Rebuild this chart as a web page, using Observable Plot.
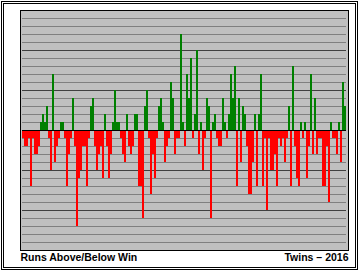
<!DOCTYPE html>
<html><head><meta charset="utf-8">
<script src="https://cdn.jsdelivr.net/npm/d3@7"></script>
<script src="https://cdn.jsdelivr.net/npm/@observablehq/plot@0.6"></script>
<style>
body{margin:0;background:#fff;}
#chart{position:absolute;left:0;top:0;}
#border{position:absolute;left:1px;top:1px;width:351px;height:263px;border:3px double #000;pointer-events:none;}
</style></head><body>
<div id="chart"></div><div id="border"></div>
<script>
// Runs above (+) / below (-) for each of the 162 games, in order
const runDiff = [
  -1,-2,-2,-1,-7,-1,-3,-3,-2,1,2,1,3,-1,-5,7,-4,-2,-1,1,1,-1,-7,-3,-1,4,-2,-12,-6,-5,-2,-2,
  -7,-1,3,4,-2,-5,-3,-2,-6,2,-2,-6,-3,1,5,1,1,-1,-3,-4,2,-2,-3,-2,2,2,-7,-7,-11,3,5,-1,-8,
  -3,-6,-1,3,4,1,-4,-2,-1,6,4,-3,-1,-1,12,1,-2,7,4,9,-1,2,10,-3,1,-5,-1,4,3,-11,1,2,-1,
  -2,-2,4,1,-1,2,7,4,8,-7,4,-4,3,2,-2,-8,-8,-4,2,-7,2,7,-7,-1,-10,-1,-5,-5,-3,-7,-1,-2,-1,
  -4,-1,3,-7,8,-2,-6,-7,1,-1,1,-6,-2,7,-3,4,-3,-1,-1,-7,-7,-2,-9,1,-1,-1,-3,1,-4,6,3
];
const games = runDiff.map((_, i) => i + 1);
const gridValues = [-14,-13,-12,-11,-10,-9,-8,-7,-6,-5,-4,-3,-2,-1,1,2,3,4,5,6,7,8,9,10,11,12,13,14];
const leftLabel = ["Runs Above/Below Win"];
const rightLabel = ["Twins – 2016"];

const data = games.map((g, i) => ({game: g, diff: runDiff[i]}));
const font = {fontSize: 10.5, fontWeight: "bold", fontFamily: "'Liberation Sans', Arial, sans-serif", fill: "#000"};

const chart = Plot.plot({
  width: 358, height: 271,
  marginLeft: 22, marginRight: 12, marginTop: 10, marginBottom: 21,
  x: {type: "band", domain: games, padding: 0, axis: null},
  y: {domain: [-15, 15], axis: null},
  style: {background: "transparent", overflow: "visible"},
  marks: [
    Plot.frame({fill: "#c0c0c0", insetLeft: -2, insetRight: -2}),
    Plot.ruleY(gridValues.filter(v => v % 5 !== 0), {stroke: "#808080"}),
    Plot.ruleY(gridValues.filter(v => v % 5 === 0), {stroke: "#404040"}),
    Plot.barY(data, {filter: d => d.diff > 0, x: "game", y: "diff", fill: "#008000", inset: 0}),
    Plot.barY(data, {filter: d => d.diff < 0, x: "game", y: "diff", fill: "#ff0000", inset: 0}),
    Plot.ruleY([0], {stroke: "#000"}),
    Plot.frame({stroke: "#000", insetLeft: -2, insetRight: -2}),
    Plot.text(leftLabel, {text: d => d, frameAnchor: "bottom-left", textAnchor: "start", dx: -2, dy: 10, ...font}),
    Plot.text(rightLabel, {text: d => d, frameAnchor: "bottom-right", textAnchor: "end", dx: 2, dy: 10, ...font})
  ]
});
chart.querySelectorAll("rect").forEach(r => r.setAttribute("shape-rendering", "crispEdges"));
document.getElementById("chart").appendChild(chart);
</script>
</body></html>
